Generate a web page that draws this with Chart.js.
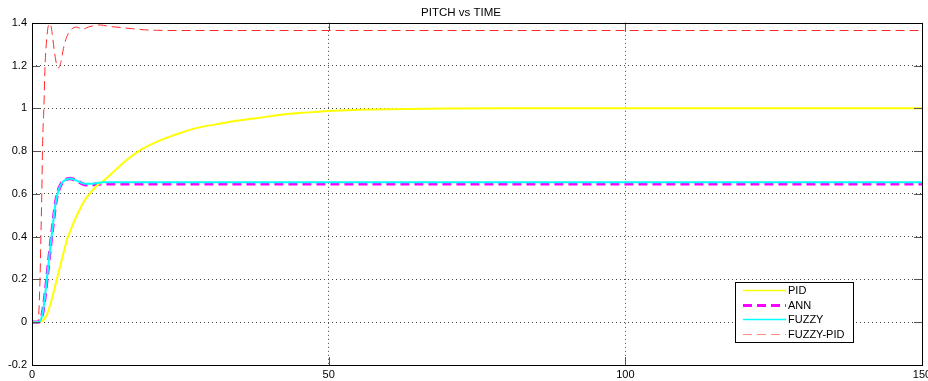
<!DOCTYPE html>
<html>
<head>
<meta charset="utf-8">
<script src="https://cdn.jsdelivr.net/npm/chart.js@4/dist/chart.umd.min.js"></script>
<style>
  html, body { margin: 0; padding: 0; background: #fff; }
  #wrap { width: 928px; height: 381px; }
</style>
</head>
<body>
<div id="wrap"><canvas id="c" width="928" height="381"></canvas></div>
<script>
// ---- data ----
const chartTitle = 'PITCH vs TIME';
const seriesNames = ['PID', 'ANN', 'FUZZY', 'FUZZY-PID'];
const yTickValues = [-0.2, 0, 0.2, 0.4, 0.6, 0.8, 1, 1.2, 1.4];
const xTickValues = [0, 50, 100, 150];

const time = [0, 1, 1.3, 1.6, 2, 2.5, 3, 3.5, 4, 4.5, 5, 5.5, 6, 6.5, 7, 8, 9, 10, 11, 12, 14, 16, 18, 20, 22, 25, 28, 31, 34, 38, 42, 46, 50, 55, 60, 70, 80, 100, 125, 150];
const pidValues = [0, 0, 0.002, 0.005, 0.012, 0.035, 0.075, 0.125, 0.18, 0.235, 0.29, 0.345, 0.395, 0.43, 0.465, 0.525, 0.575, 0.61, 0.64, 0.66, 0.71, 0.76, 0.80, 0.83, 0.855, 0.885, 0.91, 0.925, 0.94, 0.955, 0.97, 0.98, 0.988, 0.993, 0.996, 0.999, 1, 1, 1, 1];
const annValues = [0, 0, 0.005, 0.02, 0.08, 0.2, 0.33, 0.45, 0.56, 0.62, 0.65, 0.663, 0.67, 0.672, 0.668, 0.655, 0.643, 0.643, 0.646, 0.648, 0.648, 0.648, 0.648, 0.648, 0.648, 0.648, 0.648, 0.648, 0.648, 0.648, 0.648, 0.648, 0.648, 0.648, 0.648, 0.648, 0.648, 0.648, 0.648, 0.648];
const fuzzyValues = [0, 0, 0.005, 0.02, 0.08, 0.2, 0.33, 0.45, 0.56, 0.62, 0.65, 0.663, 0.67, 0.672, 0.668, 0.656, 0.647, 0.647, 0.651, 0.654, 0.655, 0.655, 0.655, 0.655, 0.655, 0.655, 0.655, 0.655, 0.655, 0.655, 0.655, 0.655, 0.655, 0.655, 0.655, 0.655, 0.655, 0.655, 0.655, 0.655];

const timeFuzzyPid = [0, 1, 1.35, 1.5, 1.65, 1.8, 2, 2.2, 2.5, 2.8, 3.1, 3.4, 3.8, 4.2, 4.5, 4.9, 5.3, 5.8, 6.5, 7.5, 8.5, 9.5, 10.5, 11.5, 13, 15, 17, 19, 21, 25, 40, 80, 150];
const fuzzyPidValues = [0, 0, 0.2, 0.4, 0.6, 0.85, 1.0, 1.2, 1.33, 1.39, 1.395, 1.35, 1.26, 1.2, 1.19, 1.22, 1.28, 1.33, 1.365, 1.38, 1.37, 1.38, 1.387, 1.39, 1.383, 1.378, 1.372, 1.367, 1.365, 1.364, 1.364, 1.364, 1.364];

function pts(xs, ys) { return xs.map((x, i) => ({ x: x, y: ys[i] })); }

const FONT = '"Liberation Sans", Arial, Helvetica, sans-serif';

// inward tick marks (MATLAB style) + axes box
const boxPlugin = {
  id: 'boxPlugin',
  afterDatasetsDraw(chart) {
    const { ctx, chartArea: a, scales } = chart;
    ctx.save();
    ctx.lineWidth = 1;
    ctx.beginPath();
    yTickValues.forEach(v => {
      const y = Math.round(scales.y.getPixelForValue(v)) + 0.5;
      ctx.moveTo(a.left, y); ctx.lineTo(a.left + 8, y);
      ctx.moveTo(a.right, y); ctx.lineTo(a.right - 8, y);
    });
    xTickValues.forEach(v => {
      const x = Math.round(scales.x.getPixelForValue(v)) + 0.5;
      ctx.moveTo(x, a.bottom); ctx.lineTo(x, a.bottom - 8);
      ctx.moveTo(x, a.top); ctx.lineTo(x, a.top + 8);
    });
    ctx.strokeStyle = '#555';
    ctx.stroke();
    ctx.strokeStyle = '#000';
    ctx.strokeRect(Math.round(a.left) + 0.5, Math.round(a.top) + 0.5, Math.round(a.right - a.left), Math.round(a.bottom - a.top));
    ctx.restore();
  }
};

// legend box inside the plot (bottom right)
const insideLegend = {
  id: 'insideLegend',
  afterDraw(chart) {
    const { ctx, chartArea: a } = chart;
    const w = 118, rowH = 14.5;
    const left = a.right - 187, top = a.bottom - 83;
    const h = rowH * chart.data.datasets.length + 2;
    ctx.save();
    ctx.fillStyle = '#fff';
    ctx.fillRect(left, top, w, h);
    ctx.strokeStyle = '#000';
    ctx.lineWidth = 1;
    ctx.strokeRect(left + 0.5, top + 0.5, w, h);
    ctx.font = '11px ' + FONT;
    ctx.textBaseline = 'middle';
    chart.data.datasets.forEach((ds, i) => {
      const y = Math.round(top + 8 + i * rowH) + 0.5;
      ctx.beginPath();
      ctx.strokeStyle = ds.legendColor || ds.borderColor;
      ctx.lineWidth = ds.legendWidth || ds.borderWidth;
      ctx.setLineDash(ds.borderDash || []);
      ctx.moveTo(left + 8, y);
      ctx.lineTo(left + 51, y);
      ctx.stroke();
      ctx.setLineDash([]);
      ctx.fillStyle = '#000';
      ctx.fillText(ds.label, left + 53, y + 0.5);
    });
    ctx.restore();
  }
};

const hideEdge = (edges) => ctx => (ctx.tick && edges.includes(ctx.tick.value)) ? 'rgba(0,0,0,0)' : '#444';

new Chart(document.getElementById('c'), {
  type: 'line',
  data: {
    datasets: [
      { label: seriesNames[0], data: pts(time, pidValues), borderColor: '#ffff00', borderWidth: 2, legendWidth: 1.5, order: 1 },
      { label: seriesNames[1], data: pts(time, annValues), borderColor: '#ff00ff', borderWidth: 3.5, borderDash: [9, 5], legendWidth: 3, order: 2 },
      { label: seriesNames[2], data: pts(time, fuzzyValues), borderColor: '#00ffff', borderWidth: 2, legendWidth: 1.5, order: 0 },
      { label: seriesNames[3], data: pts(timeFuzzyPid, fuzzyPidValues), borderColor: '#ff2a2a', borderWidth: 1, borderDash: [9, 5], legendColor: '#ff8c7c', order: 3 }
    ]
  },
  options: {
    responsive: false,
    animation: false,
    clip: false,
    layout: { padding: { left: 0, right: 6, top: 0, bottom: 0 } },
    elements: {
      point: { radius: 0 },
      line: { cubicInterpolationMode: 'monotone', fill: false }
    },
    plugins: {
      legend: { display: false },
      tooltip: { enabled: false },
      title: {
        display: true,
        text: chartTitle,
        color: '#000',
        font: { family: FONT, size: 11.5, weight: 'normal' },
        padding: { top: 6, bottom: 3 }
      }
    },
    scales: {
      x: {
        type: 'linear',
        min: 0, max: 150,
        afterBuildTicks: s => { s.ticks = xTickValues.map(v => ({ value: v })); },
        afterFit: s => { s.height = 16; s.paddingLeft = 0; s.paddingRight = 0; },
        ticks: {
          color: '#000',
          font: { family: FONT, size: 11 },
          padding: 3,
          maxRotation: 0,
          autoSkip: false,
          callback: v => String(v)
        },
        border: { display: false, dash: [1, 3] },
        grid: { color: hideEdge([0, 150]), lineWidth: 1, drawTicks: false, tickLength: 0 }
      },
      y: {
        type: 'linear',
        min: -0.2, max: 1.4,
        afterBuildTicks: s => { s.ticks = yTickValues.map(v => ({ value: v })); },
        afterFit: s => { s.width = 32; s.paddingTop = 0; s.paddingBottom = 0; },
        ticks: {
          color: '#000',
          font: { family: FONT, size: 11 },
          padding: 5,
          autoSkip: false,
          callback: v => String(Math.round(v * 10) / 10)
        },
        border: { display: false, dash: [1, 3] },
        grid: { color: hideEdge([-0.2, 1.4]), lineWidth: 1, drawTicks: false, tickLength: 0 }
      }
    }
  },
  plugins: [boxPlugin, insideLegend]
});
</script>
</body>
</html>
